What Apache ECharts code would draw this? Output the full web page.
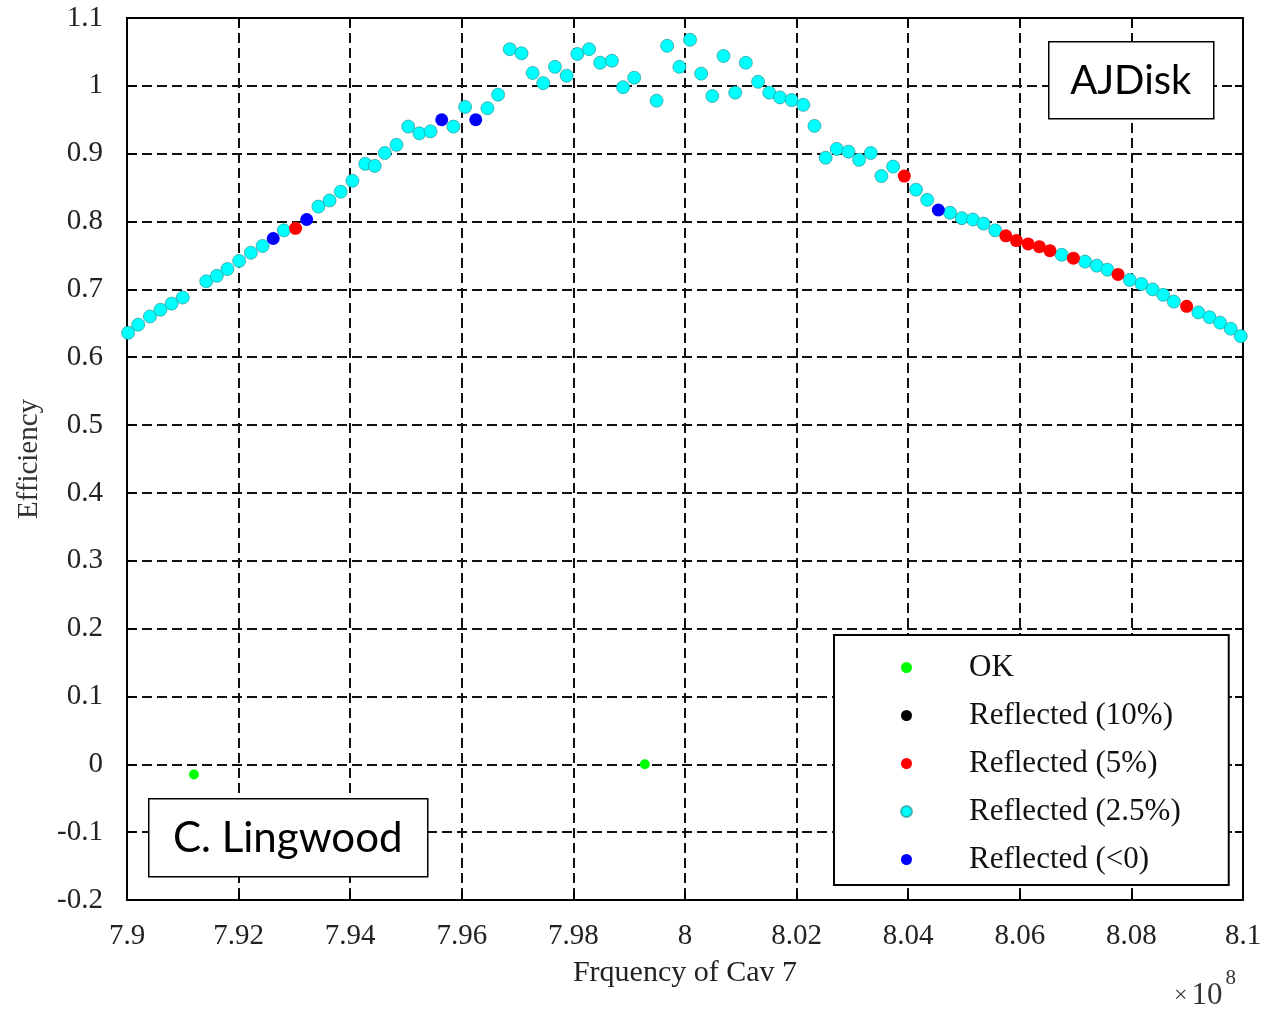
<!DOCTYPE html>
<html>
<head>
<meta charset="utf-8">
<script src="https://cdn.jsdelivr.net/npm/echarts@6/dist/echarts.min.js"></script>
<style>
  html, body { margin: 0; padding: 0; background: #fff; }
  #chart { width: 1265px; height: 1015px; }
</style>
</head>
<body>
<div id="chart"></div>
<script>
// Frequency values are in units of 1e8 (see the "× 10^8" multiplier).
const xTicks = [7.9, 8.1, 0.02];   // min, max, step
const yTicks = [-0.2, 1.1, 0.1];

const okPts = [[7.9120, -0.015], [7.9928, 0.000]];

const refl10Pts = [];

const refl5Pts = [
  [7.9302, 0.790], [8.0393, 0.867], [8.0575, 0.779], [8.0594, 0.772],
  [8.0615, 0.767], [8.0635, 0.763], [8.0654, 0.757], [8.0696, 0.746],
  [8.0776, 0.722], [8.0899, 0.675]
];

const refl25Pts = [
  [7.9002, 0.636], [7.9020, 0.648], [7.9041, 0.660], [7.9060, 0.670],
  [7.9080, 0.679], [7.9100, 0.688], [7.9142, 0.712], [7.9161, 0.720],
  [7.9180, 0.730], [7.9201, 0.742], [7.9222, 0.754], [7.9243, 0.764],
  [7.9281, 0.787], [7.9343, 0.822], [7.9363, 0.831], [7.9383, 0.844],
  [7.9404, 0.860], [7.9427, 0.885], [7.9444, 0.882], [7.9462, 0.901],
  [7.9483, 0.913], [7.9504, 0.940], [7.9524, 0.930], [7.9544, 0.933],
  [7.9585, 0.940], [7.9606, 0.969], [7.9646, 0.967], [7.9665, 0.987],
  [7.9686, 1.054], [7.9707, 1.048], [7.9727, 1.019], [7.9746, 1.004],
  [7.9767, 1.028], [7.9788, 1.015], [7.9807, 1.047], [7.9828, 1.054],
  [7.9848, 1.034], [7.9869, 1.037], [7.9889, 0.998], [7.9909, 1.012],
  [7.9949, 0.978], [7.9968, 1.059], [7.9990, 1.028], [8.0009, 1.068],
  [8.0029, 1.018], [8.0049, 0.985], [8.0069, 1.044], [8.0090, 0.990],
  [8.0109, 1.034], [8.0131, 1.006], [8.0151, 0.990], [8.0170, 0.983],
  [8.0191, 0.979], [8.0212, 0.972], [8.0232, 0.941], [8.0252, 0.894],
  [8.0272, 0.907], [8.0293, 0.903], [8.0312, 0.891], [8.0333, 0.901],
  [8.0352, 0.867], [8.0373, 0.881], [8.0414, 0.847], [8.0434, 0.832],
  [8.0475, 0.813], [8.0496, 0.805], [8.0516, 0.803], [8.0535, 0.797],
  [8.0556, 0.787], [8.0675, 0.751], [8.0717, 0.741], [8.0738, 0.735],
  [8.0757, 0.729], [8.0797, 0.714], [8.0818, 0.708], [8.0838, 0.700],
  [8.0857, 0.692], [8.0876, 0.682], [8.0920, 0.666], [8.0940, 0.659],
  [8.0959, 0.651], [8.0978, 0.642], [8.0996, 0.631]
];

const reflNegPts = [
  [7.9262, 0.775], [7.9322, 0.803], [7.9564, 0.950], [7.9625, 0.950],
  [8.0454, 0.817]
];

const seriesNames = ['OK', 'Reflected (10%)', 'Reflected (5%)', 'Reflected (2.5%)', 'Reflected (<0)'];

const serif = '"Liberation Serif", "Times New Roman", serif';
const gridLine = { show: true, lineStyle: { color: '#111', width: 2, type: [10, 5] } };
const frameLine = { show: true, onZero: false, lineStyle: { color: '#000', width: 2 } };
const innerTick = { show: true, inside: true, length: 8, lineStyle: { color: '#000', width: 2 } };

function scatter(name, data, color, size, z, border) {
  return {
    name: name,
    type: 'scatter',
    data: data,
    symbol: 'circle',
    symbolSize: size,
    z: z,
    clip: false,
    itemStyle: {
      color: color,
      opacity: 1,
      borderColor: border || color,
      borderWidth: border ? 1 : 0
    }
  };
}

const chart = echarts.init(document.getElementById('chart'), null, { renderer: 'canvas' });

chart.setOption({
  backgroundColor: '#fff',
  animation: false,
  grid: { left: 127, right: 22, top: 18, bottom: 115, containLabel: false },
  xAxis: [
    {
      type: 'value', min: xTicks[0], max: xTicks[1], interval: xTicks[2],
      position: 'bottom',
      name: 'Frquency of Cav 7', nameLocation: 'middle', nameGap: 58,
      nameTextStyle: { fontFamily: serif, fontSize: 30, color: '#222' },
      axisLine: frameLine, axisTick: innerTick, splitLine: gridLine,
      axisLabel: { fontFamily: serif, fontSize: 29, color: '#222', margin: 22 }
    },
    {
      type: 'value', min: xTicks[0], max: xTicks[1], interval: xTicks[2],
      position: 'top',
      axisLine: frameLine, axisTick: innerTick, splitLine: { show: false },
      axisLabel: { show: false }
    }
  ],
  yAxis: [
    {
      type: 'value', min: yTicks[0], max: yTicks[1], interval: yTicks[2],
      position: 'left',
      name: 'Efficiency', nameLocation: 'middle', nameGap: 83, nameRotate: 90,
      nameTextStyle: { fontFamily: serif, fontSize: 29, color: '#333' },
      axisLine: frameLine, axisTick: innerTick, splitLine: gridLine,
      axisLabel: { fontFamily: serif, fontSize: 29, color: '#222', margin: 24 }
    },
    {
      type: 'value', min: yTicks[0], max: yTicks[1], interval: yTicks[2],
      position: 'right',
      axisLine: frameLine, axisTick: innerTick, splitLine: { show: false },
      axisLabel: { show: false }
    }
  ],
  legend: {
    data: seriesNames,
    orient: 'vertical',
    left: 834, top: 635,
    backgroundColor: '#fff',
    borderColor: '#000', borderWidth: 2,
    padding: [17, 48, 10, 66],
    itemWidth: 11, itemHeight: 11, itemGap: 17,
    textStyle: {
      fontFamily: serif, fontSize: 31, color: '#111',
      lineHeight: 30, padding: [0, 0, 0, 52]
    }
  },
  series: [
    scatter(seriesNames[0], okPts, '#00ff00', 10, 3),
    scatter(seriesNames[1], refl10Pts, '#000000', 12, 3),
    scatter(seriesNames[2], refl5Pts, '#ff0000', 13, 4),
    scatter(seriesNames[3], refl25Pts, '#00ffff', 13, 2, 'rgba(40,150,150,0.7)'),
    scatter(seriesNames[4], reflNegPts, '#0000ff', 13, 4)
  ],
  graphic: [
    {
      type: 'group', left: 1048, top: 41, z: 100,
      children: [
        { type: 'rect', z: 100, shape: { x: 0, y: 0, width: 165, height: 77 },
          style: { fill: '#fff', stroke: '#000', lineWidth: 1.5 } },
        { type: 'text', z: 101, x: 82, y: 39,
          style: { text: 'AJDisk', font: '40px Lato, "Open Sans", sans-serif',
                   fill: '#000', align: 'center', verticalAlign: 'middle' } }
      ]
    },
    {
      type: 'group', left: 148, top: 798, z: 100,
      children: [
        { type: 'rect', z: 100, shape: { x: 0, y: 0, width: 279, height: 78 },
          style: { fill: '#fff', stroke: '#000', lineWidth: 1.5 } },
        { type: 'text', z: 101, x: 139, y: 40,
          style: { text: 'C. Lingwood', font: '42px Lato, "Open Sans", sans-serif',
                   fill: '#000', align: 'center', verticalAlign: 'middle' } }
      ]
    },
    {
      type: 'text', left: 1174, top: 968, z: 100,
      style: {
        text: '{m|×}{b|10}{s|8}',
        rich: {
          m: { fontFamily: serif, fontSize: 24, fill: '#333', padding: [12, 4, 0, 0] },
          b: { fontFamily: serif, fontSize: 31, fill: '#333', padding: [12, 0, 0, 0] },
          s: { fontFamily: serif, fontSize: 21, fill: '#333', padding: [0, 0, 22, 3] }
        }
      }
    }
  ]
});
</script>
</body>
</html>
